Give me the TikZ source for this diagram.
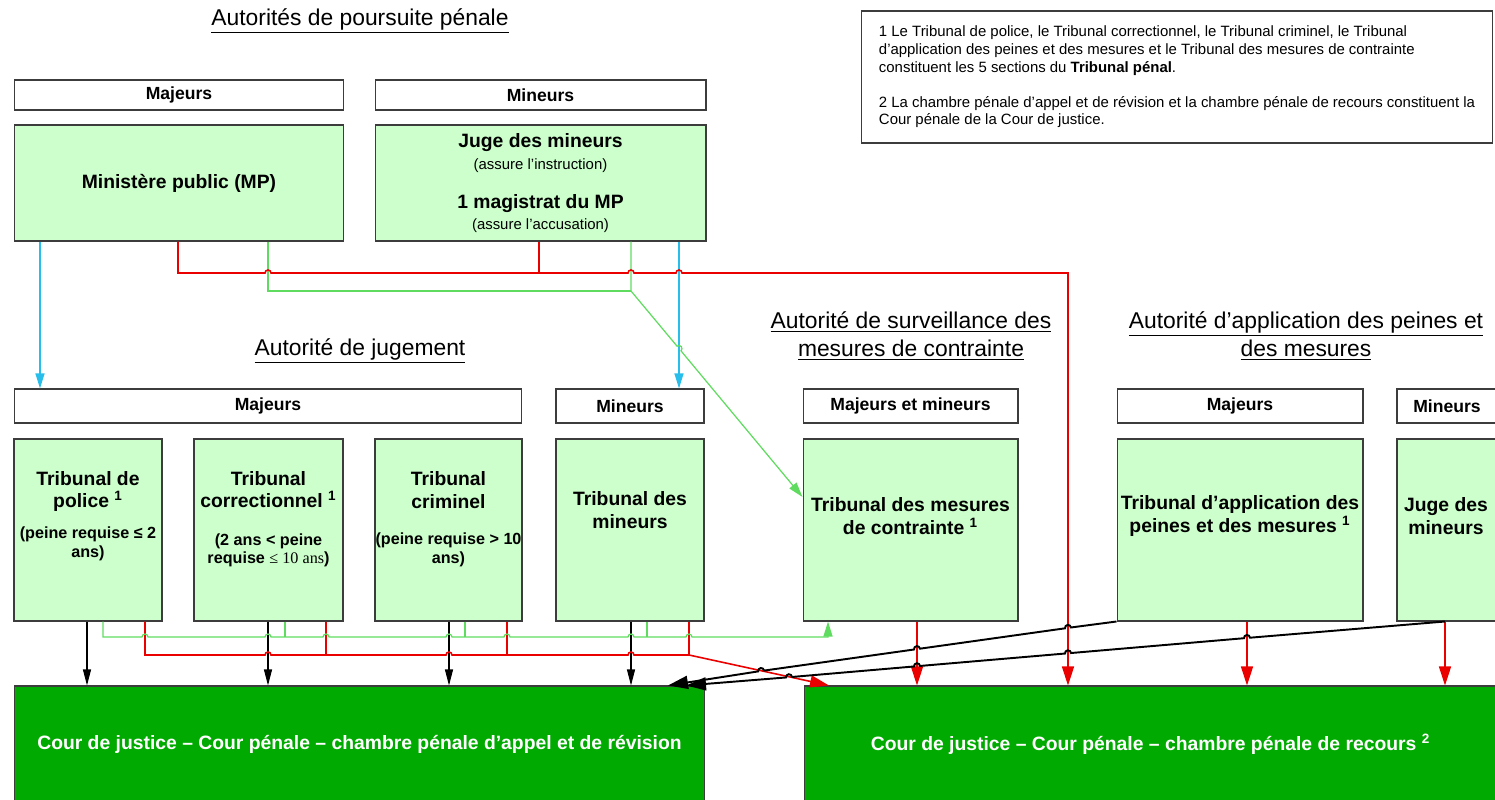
\documentclass[tikz,border=0pt]{standalone}
\usepackage{fontspec}
\setmainfont{Liberation Sans}
\newfontfamily\serifpolice{Liberation Serif}
\usetikzlibrary{arrows.meta}

\definecolor{vertclair}{RGB}{204,255,204}
\definecolor{vertfonce}{RGB}{0,170,0}
\definecolor{rouge}{RGB}{235,0,0}
\definecolor{vertlien}{RGB}{95,220,95}
\definecolor{bleulien}{RGB}{40,190,235}
\definecolor{bord}{RGB}{60,60,60}

\tikzset{
  entete/.style={draw=bord, line width=0.6pt, fill=white, inner sep=0pt, minimum height=0.68cm, font=\bfseries\fontsize{10}{12}\selectfont},
  organe/.style={draw=bord, line width=0.6pt, fill=vertclair, inner sep=0pt, align=center, font=\bfseries\fontsize{11}{13.5}\selectfont},
  tribunal/.style={organe, minimum height=3.64cm},
  libelle/.style={align=center, inner sep=0pt, yshift=0.28cm, font=\bfseries\fontsize{11}{13}\selectfont},
  cour/.style={draw=bord, line width=0.6pt, fill=vertfonce, inner sep=0pt, minimum height=2.32cm, text=white, font=\bfseries\fontsize{11}{13}\selectfont},
  titre/.style={align=center, inner sep=0pt, font=\fontsize{13}{16}\selectfont},
  renvoi/.style={draw=bord, line width=0.6pt, align=left, inner sep=0pt, minimum width=12.64cm, minimum height=2.64cm, font=\fontsize{8.5}{10}\selectfont},
  lien noir/.style={black, line width=0.6pt, -{Triangle[length=0.32cm,width=0.16cm]}},
  lien diag/.style={black, line width=1.1pt, -{Triangle[length=0.4cm,width=0.26cm]}},
  lien rouge/.style={rouge, line width=0.9pt},
  fleche rouge/.style={lien rouge, -{Triangle[length=0.38cm,width=0.24cm]}},
  lien vert/.style={vertlien, line width=0.7pt},
  fleche verte/.style={lien vert, -{Triangle[length=0.3cm,width=0.18cm]}},
  lien bleu/.style={bleulien, line width=0.7pt, -{Triangle[length=0.3cm,width=0.18cm]}},
}
\newcommand{\parenth}{\fontsize{9.2}{11}\selectfont}
\newcommand{\petit}{\mdseries\fontsize{8.5}{10}\selectfont}

\begin{document}
\begin{tikzpicture}[x=0.02cm, y=-0.02cm]
\useasboundingbox (0,0) rectangle (1495,800);

% -------- titres --------
\node[titre] (tPours) at (360,21) {\underline{Autorités de poursuite pénale}};
\node[titre] (tJug)   at (360,351) {\underline{Autorité de jugement}};
\node[titre] (tSurv)  at (911,336) {\underline{Autorité de surveillance des}\\\underline{mesures de contrainte}};
\node[titre] (tAppl)  at (1306,336) {\underline{Autorité d’application des peines et}\\\underline{des mesures}};

% -------- renvois --------
\node[renvoi] (notes) at (1177,77) {1 Le Tribunal de police, le Tribunal correctionnel, le Tribunal criminel, le Tribunal\\
d'application des peines et des mesures et le Tribunal des mesures de contrainte\\
constituent les 5 sections du \textbf{Tribunal pénal}.\\[10pt]
2 La chambre pénale d'appel et de révision et la chambre pénale de recours constituent la\\
Cour pénale de la Cour de justice.};

% -------- poursuite --------
\node[entete, minimum width=6.6cm, minimum height=0.6cm]  (hMajP) at (179,95) {Majeurs};
\node[entete, minimum width=6.62cm, minimum height=0.6cm] (hMinP) at (540.5,95) {Mineurs};
\node[organe, minimum width=6.6cm, minimum height=2.32cm]  (mp) at (179,183) {Ministère public (MP)};
\node[organe, minimum width=6.62cm, minimum height=2.32cm] (jm) at (540.5,183) {Juge des mineurs\\[-0.05cm]{\petit (assure l’instruction)}\\[0.32cm]1 magistrat du MP\\[-0.07cm]{\petit (assure l’accusation)}};

% -------- en-tetes du bas --------
\node[entete, minimum width=10.16cm] (hMajJ) at (268,406) {Majeurs};
\node[entete, minimum width=2.96cm]  (hMinJ) at (630,406) {Mineurs};
\node[entete, minimum width=4.3cm]   (hMixS) at (910.5,406) {Majeurs et mineurs};
\node[entete, minimum width=4.92cm]  (hMajA) at (1240,406) {Majeurs};
\node[entete, minimum width=2.0cm]   (hMinA) at (1447,406) {Mineurs};

% -------- tribunaux --------
\node[tribunal, minimum width=2.96cm] (police) at (88,530) {};
\node[tribunal, minimum width=2.98cm] (correc) at (268.5,530) {};
\node[tribunal, minimum width=2.94cm] (crimin) at (448.5,530) {};
\node[tribunal, minimum width=2.96cm] (tmin) at (630,530) {};
\node[tribunal, minimum width=4.3cm]  (tmc) at (910.5,530) {};
\node[tribunal, minimum width=4.92cm] (tap) at (1240,530) {};
\node[tribunal, minimum width=2.0cm]  (jmin) at (1447,530) {};

\node[libelle] (police-t) at (police.center) {Tribunal de\\police \textsuperscript{1}\\[0.16cm]{\parenth (peine requise ≤ 2}\\[-0.08cm]{\parenth ans)}};
\node[libelle, yshift=-0.06cm] (correc-t) at (correc.center) {Tribunal\\correctionnel \textsuperscript{1}\\[0.3cm]{\parenth (2 ans < peine}\\[-0.1cm]{\parenth requise {\serifpolice\mdseries ≤ 10 ans})}};
\node[libelle, yshift=-0.06cm] (crimin-t) at (crimin.center) {Tribunal\\criminel\\[0.26cm]{\parenth (peine requise > 10}\\[-0.08cm]{\parenth ans)}};
\node[libelle, yshift=0.11cm] (tmin-t) at (tmin.center) {Tribunal des\\mineurs};
\node[libelle] (tmc-t)  at (tmc.center)  {Tribunal des mesures\\de contrainte \textsuperscript{1}};
\node[libelle] (tap-t)  at (tap.center)  {Tribunal d’application des\\peines et des mesures \textsuperscript{1}};
\node[libelle] (jmin-t) at (1446,0 |- jmin.center) {Juge des\\mineurs};

% -------- cour de justice --------
\node[cour, minimum width=13.82cm] (cap) at (359.5,744) {Cour de justice – Cour pénale – chambre pénale d’appel et de révision};
\node[cour, minimum width=13.86cm] (crc) at (1150.5,744) {Cour de justice – Cour pénale – chambre pénale de recours \textsuperscript{2}};

% -------- liens du haut --------
\draw[lien bleu] (40,0 |- mp.south) -- (40,0 |- hMajJ.north);
\draw[lien bleu] (679,0 |- jm.south) -- (679,0 |- hMinJ.north);

\draw[lien vert] (268,0 |- mp.south) -- (268,291) -- (631,291);
\draw[fleche verte] (631,0 |- jm.south) -- (631,291) -- (677.08,346.2) arc[start angle=129.9, end angle=-50.1, radius=0.06cm] -- (tmc.west |- 0,497);

\draw[lien rouge] (539,0 |- jm.south) -- (539,273);
\draw[fleche rouge] (178,0 |- mp.south) -- (178,273) -- (265,273) arc[start angle=180, end angle=0, radius=0.06cm]
  -- (628,273) arc[start angle=180, end angle=0, radius=0.06cm]
  -- (676,273) arc[start angle=180, end angle=0, radius=0.06cm]
  -- (1068,273) -- (1068,0 |- crc.north);

% -------- liens du bas --------
\draw[lien noir] (87,0 |- police.south) -- (87,0 |- cap.north);
\draw[lien noir] (268,0 |- correc.south) -- (268,0 |- cap.north);
\draw[lien noir] (449,0 |- crimin.south) -- (449,0 |- cap.north);
\draw[lien noir] (631,0 |- tmin.south) -- (631,0 |- cap.north);

\draw[lien rouge] (326,0 |- correc.south) -- (326,655);
\draw[lien rouge] (507,0 |- crimin.south) -- (507,655);
\draw[lien rouge] (689,0 |- tmin.south) -- (689,655);
\draw[fleche rouge] (145,0 |- police.south) -- (145,655)
  -- (265,655) arc[start angle=180, end angle=0, radius=0.06cm]
  -- (446,655) arc[start angle=180, end angle=0, radius=0.06cm]
  -- (628,655) arc[start angle=180, end angle=0, radius=0.06cm]
  -- (689,655) -- (829,0 |- crc.north);

\draw[lien vert] (285,0 |- correc.south) -- (285,637);
\draw[lien vert] (465,0 |- crimin.south) -- (465,637);
\draw[lien vert] (647,0 |- tmin.south) -- (647,637);
\draw[fleche verte] (103,0 |- police.south) -- (103,637)
  -- (142,637) arc[start angle=180, end angle=0, radius=0.06cm]
  -- (265,637) arc[start angle=180, end angle=0, radius=0.06cm]
  -- (323,637) arc[start angle=180, end angle=0, radius=0.06cm]
  -- (446,637) arc[start angle=180, end angle=0, radius=0.06cm]
  -- (504,637) arc[start angle=180, end angle=0, radius=0.06cm]
  -- (628,637) arc[start angle=180, end angle=0, radius=0.06cm]
  -- (686,637) arc[start angle=180, end angle=0, radius=0.06cm]
  -- (828,637) -- (828,0 |- tmc.south);

\draw[fleche rouge] (917,0 |- tmc.south) -- (917,0 |- crc.north);
\draw[fleche rouge] (1247,0 |- tap.south) -- (1247,0 |- crc.north);
\draw[fleche rouge] (1445,0 |- jmin.south) -- (1445,0 |- crc.north);

\draw[lien diag] (tap.south west)
  -- (1070.97,627.48) arc[start angle=7.98, end angle=187.98, radius=0.06cm]
  -- (919.97,648.68) arc[start angle=7.98, end angle=187.98, radius=0.06cm]
  -- (764.07,670.58) arc[start angle=7.98, end angle=187.98, radius=0.06cm]
  -- (668,0 |- cap.north);
\draw[lien diag] (1445,0 |- jmin.south)
  -- (1249.99,637.70) arc[start angle=4.89, end angle=184.89, radius=0.06cm]
  -- (1070.99,653.03) arc[start angle=4.89, end angle=184.89, radius=0.06cm]
  -- (919.99,665.96) arc[start angle=4.89, end angle=184.89, radius=0.06cm]
  -- (791.99,676.96) arc[start angle=4.89, end angle=184.89, radius=0.06cm]
  -- (686,0 |- cap.north);

\end{tikzpicture}
\end{document}
